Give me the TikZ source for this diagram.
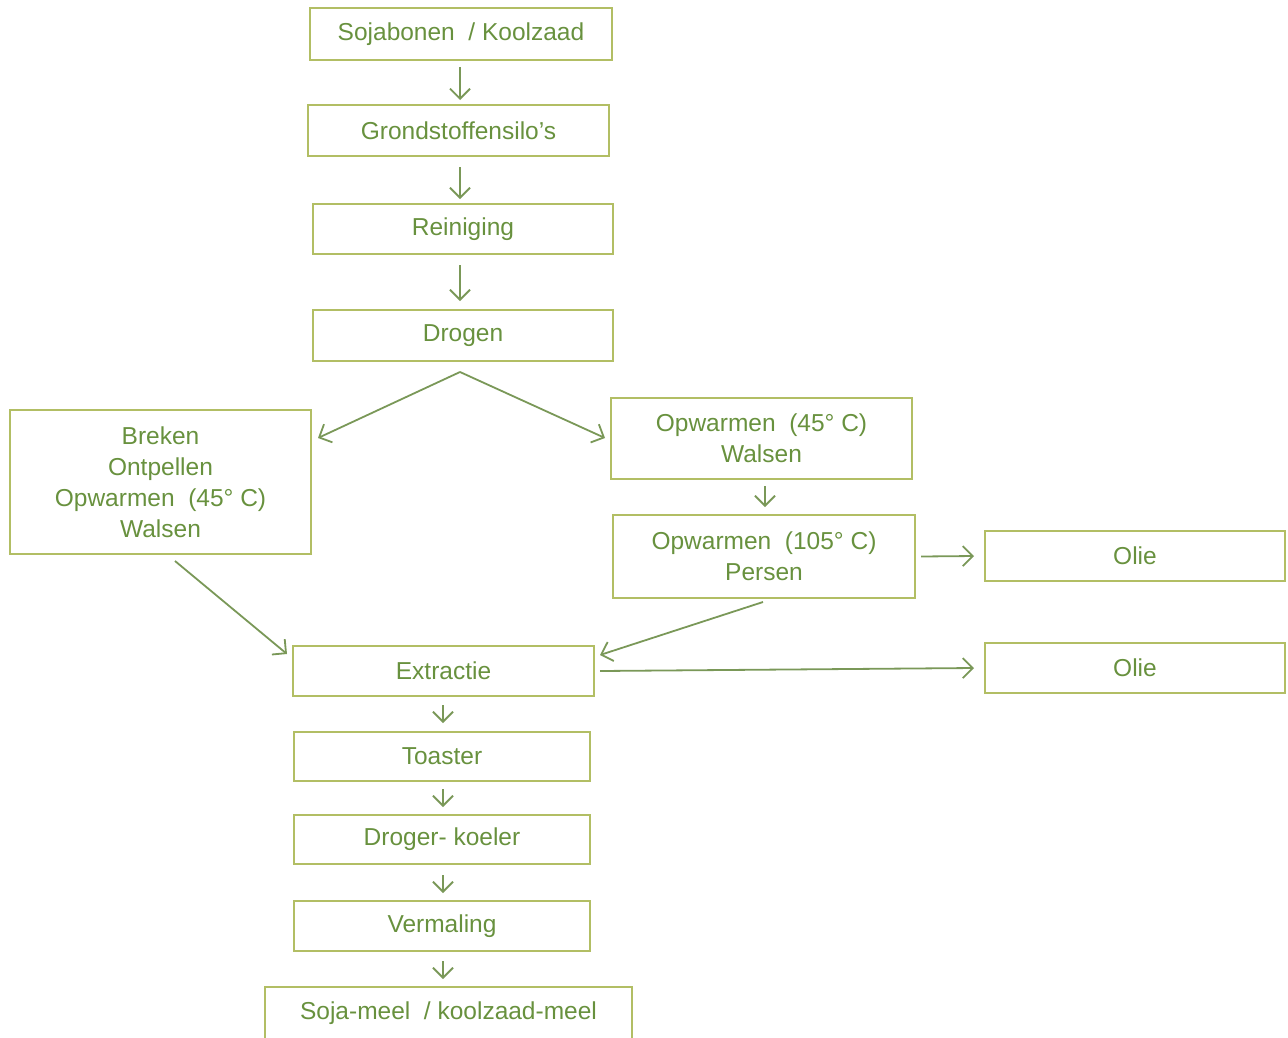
\documentclass[tikz,border=0pt]{standalone}
\usepackage{fontspec}
\setmainfont{Liberation Sans}
\usetikzlibrary{arrows.meta}
\definecolor{boxc}{RGB}{178,190,100}
\definecolor{txtc}{RGB}{104,145,62}
\definecolor{arrc}{RGB}{122,152,88}
\tikzset{
  proc/.style={draw=boxc, line width=2pt, text=txtc, align=center, inner sep=0pt,
    font=\fontsize{24.5}{31}\selectfont},
  flow/.style={draw=arrc, line width=1.8pt, -{Straight Barb[length=10pt,width=20pt,line width=1.8pt]}}
}
\begin{document}
\begin{tikzpicture}[x=1pt,y=-1pt]
\useasboundingbox (0,0) rectangle (1288,1037);
\begin{scope}
\clip (0,0) rectangle (1288,1037);
\node[proc, minimum width=302pt, minimum height=52pt] (soja) at (461,34) {Sojabonen \ / Koolzaad};
\node[proc, minimum width=301pt, minimum height=51pt] (silo) at (458.5,130.5) {Grondstoffensilo’s};
\node[proc, minimum width=300pt, minimum height=50pt] (rein) at (463,229) {Reiniging};
\node[proc, minimum width=300pt, minimum height=51pt] (drog) at (463,335.5) {Drogen};
\node[proc, minimum width=301pt, minimum height=144pt] (brek) at (160.5,482) {Breken\\Ontpellen\\Opwarmen \ (45° C)\\Walsen};
\node[proc, minimum width=301pt, minimum height=81pt] (opw1) at (761.5,438.5) {Opwarmen \ (45° C)\\Walsen};
\node[proc, minimum width=302pt, minimum height=83pt] (opw2) at (764,556.5) {Opwarmen \ (105° C)\\Persen};
\node[proc, minimum width=300pt, minimum height=50pt] (olie1) at (1135,556) {Olie};
\node[proc, minimum width=301pt, minimum height=50pt] (extr) at (443.5,671) {Extractie};
\node[proc, minimum width=300pt, minimum height=50pt] (olie2) at (1135,668) {Olie};
\node[proc, minimum width=296pt, minimum height=49pt] (toas) at (442,756.5) {Toaster};
\node[proc, minimum width=296pt, minimum height=49pt] (droger) at (442,839.5) {Droger- koeler};
\node[proc, minimum width=296pt, minimum height=50pt] (verm) at (442,926) {Vermaling};
\node[proc, minimum width=367pt, minimum height=52pt] (meel) at (448.5,1013) {Soja-meel \ / koolzaad-meel};
\end{scope}
\coordinate (split) at (460,372);
\draw[flow] ([yshift=-6pt]soja.south -| 460,0) -- ([yshift=4pt]silo.north -| 460,0);
\draw[flow] ([yshift=-10pt]silo.south -| 460,0) -- ([yshift=4pt]rein.north -| 460,0);
\draw[flow] ([yshift=-10pt]rein.south -| 460,0) -- ([yshift=8pt]drog.north -| 460,0);
\draw[flow] (split) -- (318,438);
\draw[flow] (split) -- (605,438);
\draw[flow] ([yshift=-6pt]opw1.south -| 765,0) -- ([yshift=7pt]opw2.north -| 765,0);
\draw[flow] ([xshift=5pt]opw2.east) -- ([xshift=-10pt]olie1.west);
\draw[flow] (175,561) -- (287,654);
\draw[flow] (763,602) -- (600,655);
\draw[flow] (600,671) -- ([xshift=-10pt]olie2.west);
\draw[flow] ([yshift=-8pt]extr.south -| 443,0) -- ([yshift=8pt]toas.north -| 443,0);
\draw[flow] ([yshift=-7pt]toas.south -| 443,0) -- ([yshift=7pt]droger.north -| 443,0);
\draw[flow] ([yshift=-10pt]droger.south -| 443,0) -- ([yshift=7pt]verm.north -| 443,0);
\draw[flow] ([yshift=-9pt]verm.south -| 443,0) -- ([yshift=7pt]meel.north -| 443,0);
\end{tikzpicture}
\end{document}
